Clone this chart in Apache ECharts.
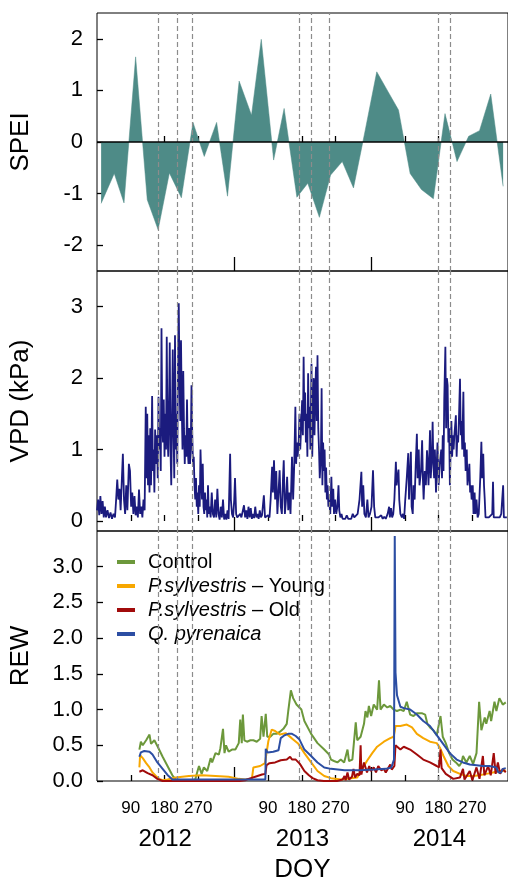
<!DOCTYPE html>
<html>
<head>
<meta charset="utf-8">
<script src="https://cdn.jsdelivr.net/npm/echarts@6/dist/echarts.min.js"></script>
<style>
html,body{margin:0;padding:0;background:#fff;}
#c{width:508px;height:884px;}
</style>
</head>
<body>
<div id="c"></div>
<script>
// ---- x axis (days since 2012-01-01) ----
var yearStarts = [0, 366, 731];
var yearLabels = ['2012', '2013', '2014'];
var doyTicks = [90, 180, 270];
var dashDays = [162, 213, 255, 540, 572, 618, 909, 941];

// ---- SPEI (monthly) ----
var speiDays = [11,46,72,103,134,163,193,225,256,286,319,348,379,412,438,471,499,533,562,593,623,654,684,715,746,775,804,835,865,897,928,960,991,1020,1050,1083];
var speiVals = [-1.19,-0.61,-1.18,1.65,-1.12,-1.70,-0.60,-1.08,0.38,-0.28,0.38,-1.05,1.18,0.52,1.99,-0.35,0.65,-1.07,-0.80,-1.46,-0.64,-0.38,-0.89,0.22,1.36,0.99,0.62,-0.61,-0.92,-1.10,0.55,-0.38,0.11,0.22,0.93,-0.86];

// ---- VPD (kPa) ----
var vpdDays = [0,3,6,9,12,15,18,21,24,28,32,36,40,44,48,51,54,57,60,63,66,69,72,75,78,81,85,88,91,94,97,100,103,106,109,112,115,118,121,124,127,130,132,134,136,138,140,142,144,147,149,151,153,155,157,160,162,164,166,168,170,172,174,176,178,180,182,184,186,188,190,192,194,196,198,200,202,204,206,208,210,212,214,216,218,220,222,224,226,228,230,232,234,236,238,240,242,244,246,248,250,252,254,256,258,260,262,264,266,268,270,272,274,276,278,280,282,284,286,288,290,292,294,296,298,300,303,306,309,312,315,318,321,324,327,330,333,336,339,342,345,348,351,355,357,360,363,
366,368,371,374,378,382,385,389,392,395,398,401,404,407,410,413,416,419,422,425,428,431,434,437,440,445,448,452,456,460,463,467,469,472,475,478,481,484,487,490,493,496,498,501,504,507,510,513,516,520,523,526,529,531,533,535,538,540,542,547,549,551,553,555,557,559,561,563,565,567,569,572,574,576,578,580,582,584,586,588,590,592,594,597,599,601,603,605,607,609,611,613,615,617,619,622,625,627,630,632,635,638,641,644,646,649,652,655,658,662,666,670,674,678,682,686,690,695,700,705,707,710,713,717,721,724,728,
732,736,739,742,746,750,754,758,762,766,770,775,779,781,784,787,790,793,797,799,801,804,806,809,813,816,819,822,826,830,832,834,837,839,842,844,847,850,853,855,858,860,864,867,869,871,874,877,880,882,884,888,890,893,895,897,899,901,904,906,908,911,914,918,920,922,924,926,929,931,933,935,937,939,941,943,945,947,949,951,953,957,959,961,963,965,968,970,972,974,977,979,981,983,986,988,990,993,995,997,999,1002,1004,1007,1009,1012,1015,1018,1022,1025,1027,1030,1032,1034,1036,1040,1045,1050,1054,1056,1058,1062,1066,1070,1074,1078,1083,1085,1089,1093];
var vpdVals = [0.15,0.3,0.08,0.35,0.1,0.28,0.05,0.2,0.05,0.15,0.04,0.12,0.03,0.1,0.05,0.3,0.58,0.3,0.45,0.15,0.55,0.94,0.3,0.1,0.5,0.15,0.8,0.7,0.2,0.4,0.1,0.35,0.08,0.2,0.05,0.44,0.1,0.2,0.05,0.3,0.15,1.6,0.6,1.5,0.5,1.2,0.4,1.3,0.5,1.75,0.7,1.0,0.4,1.28,0.8,1.2,0.6,1.74,1.0,1.3,0.7,2.7,1.4,1.1,1.7,0.9,1.5,1.0,2.58,1.2,0.9,1.6,2.5,1.0,0.5,1.4,2.4,1.3,0.6,2.6,1.0,1.5,0.8,2.2,3.05,2.0,1.4,2.53,1.6,1.0,2.1,1.3,0.8,1.2,0.9,1.7,1.0,0.8,1.3,0.8,1.0,1.9,1.2,0.8,0.9,0.5,0.3,0.6,0.2,0.4,0.1,0.5,0.2,1.0,0.6,0.3,0.8,0.2,0.1,0.4,0.15,0.3,0.05,0.5,0.1,0.2,0.05,0.4,0.1,0.05,0.3,0.05,0.45,0.1,0.02,0.2,0.05,0.3,0.02,0.1,0.02,0.15,0.03,0.94,0.3,0.1,0.05,
0.3,0.6,0.1,0.05,0.03,0.1,0.05,0.03,0.22,0.05,0.15,0.03,0.2,0.05,0.18,0.03,0.1,0.04,0.2,0.05,0.1,0.03,0.15,0.05,0.08,0.36,0.05,0.03,0.08,0.05,0.3,0.76,0.4,0.85,0.3,0.7,0.1,0.4,0.71,0.2,0.1,0.6,0.85,0.1,0.3,0.62,0.15,0.4,0.1,0.9,0.3,0.8,1.6,0.8,1.1,0.9,1.13,1.5,1.0,1.69,1.2,2.3,1.4,1.8,1.1,1.5,0.9,2.07,1.3,1.6,1.0,2.2,0.9,1.5,2.0,1.2,1.8,2.16,1.4,2.32,1.3,1.0,0.6,0.9,1.86,0.5,1.1,0.7,1.0,0.4,0.75,0.3,0.5,0.2,0.3,0.1,0.62,0.2,0.45,0.1,0.3,0.1,0.2,0.5,0.15,0.05,0.1,0.03,0.05,0.03,0.08,0.03,0.05,0.03,0.1,0.05,0.03,0.1,0.3,0.69,0.2,0.5,0.1,0.05,0.3,0.05,0.1,
0.2,0.71,0.2,0.05,0.03,0.05,0.03,0.08,0.03,0.06,0.03,0.1,0.2,0.05,0.18,0.05,0.1,0.3,0.83,0.5,0.6,0.72,0.3,0.1,0.05,0.1,0.03,0.3,0.6,0.95,0.3,0.6,0.97,0.2,0.1,0.5,0.3,0.8,1.22,0.6,1.0,0.5,0.7,1.13,0.6,0.3,0.7,0.5,0.99,0.8,0.5,1.27,0.6,0.9,1.39,0.8,0.6,1.0,0.4,0.8,1.1,0.5,0.8,1.0,0.6,1.2,0.7,1.7,2.44,1.3,2.0,1.9,1.1,1.3,0.5,1.0,1.4,0.9,1.2,1.0,1.2,1.48,0.9,1.2,1.1,1.4,1.99,1.2,1.4,1.0,1.81,0.9,1.1,0.7,1.0,0.5,0.6,0.8,0.4,0.5,0.3,0.5,0.1,0.4,0.1,0.3,0.05,0.1,0.6,1.11,0.6,0.94,0.5,0.3,0.05,0.03,0.05,0.03,0.1,0.55,0.05,0.03,0.05,0.03,0.05,0.1,0.5,0.05,0.03,0.05];

// ---- REW ----
var ctrlDays = [113,117,122,131,140,144,153,162,175,188,201,210,230,255,262,267,272,279,285,294,303,307,316,325,329,336,340,344,351,360,369,378,382,386,389,393,400,409,417,426,435,439,444,450,454,462,470,479,488,497,506,510,517,523,532,545,553,571,588,606,619,624,632,641,650,659,668,672,681,690,694,703,712,716,721,725,731,738,747,752,756,765,774,782,791,800,809,818,826,835,844,853,866,875,881,888,897,906,916,922,930,939,948,957,966,972,976,985,994,1003,1012,1019,1025,1034,1038,1047,1051,1060,1065,1073,1082,1090];
var ctrlVals = [0.44,0.55,0.50,0.57,0.65,0.52,0.57,0.48,0.34,0.21,0.08,0.02,0.01,0.01,0.02,0.12,0.21,0.10,0.19,0.14,0.32,0.26,0.39,0.37,0.46,0.73,0.39,0.50,0.41,0.44,0.44,0.53,0.86,0.53,0.93,0.57,0.55,0.57,0.57,0.55,0.59,0.91,0.62,0.94,0.62,0.62,0.66,0.66,0.69,0.73,0.80,0.98,1.27,1.16,1.07,1.00,0.84,0.66,0.53,0.44,0.37,0.30,0.28,0.26,0.30,0.26,0.44,0.28,0.30,0.82,0.57,0.62,0.80,0.98,0.89,1.05,0.91,1.07,1.00,1.41,1.00,1.07,1.03,1.05,1.00,0.98,1.00,0.98,1.11,0.93,0.91,0.95,0.95,0.93,0.80,0.75,0.71,0.64,0.91,0.62,0.53,0.39,0.30,0.26,0.21,0.26,0.35,0.26,0.35,0.24,0.39,1.11,0.71,0.89,0.80,0.98,0.84,1.11,0.98,1.16,1.07,1.10];

var psyDays = [113,115,122,131,140,148,157,166,175,188,210,245,280,316,351,378,395,413,417,435,448,457,466,475,488,503,519,537,553,571,588,606,624,650,677,694,707,721,734,747,765,782,791,794,796,809,826,840,853,870,888,906,915,924,937,950,968,985,1003,1020,1038,1056,1069,1082,1090];
var psyVals = [0.19,0.36,0.32,0.25,0.19,0.12,0.07,0.03,0.01,0.02,0.05,0.07,0.08,0.07,0.06,0.03,0.02,0.03,0.19,0.21,0.25,0.56,0.72,0.70,0.65,0.67,0.60,0.52,0.39,0.26,0.14,0.07,0.04,0.02,0.04,0.05,0.17,0.29,0.39,0.48,0.55,0.60,0.62,0.70,0.77,0.77,0.79,0.75,0.66,0.60,0.55,0.53,0.46,0.35,0.21,0.14,0.10,0.07,0.07,0.08,0.10,0.12,0.14,0.14,0.15];

var psoDays = [113,122,135,148,161,175,200,300,380,395,404,422,440,449,452,460,475,490,506,515,520,530,541,553,565,575,588,605,640,655,660,663,668,672,680,684,688,694,700,703,705,712,720,726,730,738,744,750,758,765,770,782,786,793,796,809,818,835,853,870,888,906,912,916,919,930,950,968,976,980,994,1001,1012,1020,1029,1033,1043,1050,1058,1063,1069,1075,1082,1090];
var psoVals = [0.13,0.15,0.11,0.08,0.03,0.00,0.00,0.00,0.00,0.01,0.03,0.06,0.09,0.10,0.22,0.25,0.26,0.29,0.30,0.34,0.30,0.30,0.24,0.14,0.08,0.04,0.01,0.00,0.00,0.02,0.07,0.01,0.12,0.02,0.06,0.17,0.05,0.10,0.08,0.50,0.09,0.26,0.12,0.21,0.14,0.19,0.12,0.21,0.15,0.17,0.12,0.23,0.16,0.21,0.50,0.44,0.48,0.44,0.37,0.30,0.26,0.21,0.19,0.44,0.18,0.10,0.03,0.05,0.17,0.02,0.14,0.01,0.19,0.03,0.35,0.08,0.21,0.08,0.39,0.10,0.26,0.10,0.17,0.12];

var qpyDays = [113,117,126,140,148,161,175,188,201,230,300,380,449,450,455,470,484,490,500,510,520,530,540,553,571,588,606,624,660,700,740,770,785,790,792,794,796,800,809,818,835,853,870,888,905,923,941,959,976,994,1012,1029,1047,1065,1070,1078,1082,1090];
var qpyVals = [0.34,0.40,0.42,0.41,0.37,0.26,0.17,0.085,0.02,0.02,0.02,0.02,0.02,0.45,0.40,0.41,0.43,0.60,0.64,0.66,0.66,0.63,0.58,0.44,0.35,0.26,0.19,0.17,0.15,0.15,0.16,0.17,0.19,0.21,0.30,3.43,1.52,1.20,1.04,1.02,1.00,0.93,0.84,0.77,0.65,0.52,0.39,0.30,0.26,0.23,0.22,0.21,0.21,0.19,0.12,0.12,0.17,0.18];

var seriesNames = ['Control', 'P.sylvestris – Young', 'P.sylvestris – Old', 'Q. pyrenaica'];
var legendRich = {
  'Control': 'Control',
  'P.sylvestris – Young': '{i|P.sylvestris} – Young',
  'P.sylvestris – Old': '{i|P.sylvestris} – Old',
  'Q. pyrenaica': '{i|Q. pyrenaica}'
};

function pairs(d, v) { return d.map(function (x, i) { return [x, v[i]]; }); }

var FONT = 'Liberation Sans, Arial, sans-serif';
var tickDays = [];
yearStarts.forEach(function (s) { doyTicks.forEach(function (d) { tickDays.push(s + d); }); });
var yearLabelDays = yearStarts.map(function (s) { return s + 182; });
var nextYears = yearStarts.slice(1);

function doyOf(v) {
  var s = 0;
  yearStarts.forEach(function (y) { if (v >= y) s = y; });
  return String(v - s);
}

var XMAX = 1096;
var gridDefs = [
  {top: 13, height: 258},
  {top: 271, height: 260},
  {top: 531, height: 258}
];

var grids = gridDefs.map(function (g) {
  return {left: 97, right: -4, top: g.top, height: g.height, show: true,
    borderColor: '#000', borderWidth: 1, backgroundColor: 'transparent'};
});

var xAxes = [];
gridDefs.forEach(function (g, i) {
  var last = (i === 2);
  xAxes.push({
    type: 'value', gridIndex: i, min: 0, max: XMAX, position: 'bottom',
    axisLine: {show: false}, splitLine: {show: false},
    axisTick: {show: true, inside: true, length: 6, customValues: tickDays,
      lineStyle: {color: '#000', width: 1.3}},
    axisLabel: {show: last, customValues: tickDays, formatter: doyOf,
      fontSize: 17, color: '#000', fontFamily: FONT, margin: 19}
  });
  xAxes.push({
    type: 'value', gridIndex: i, min: 0, max: XMAX, position: 'bottom',
    axisLine: {show: false}, splitLine: {show: false},
    axisTick: {show: true, inside: true, length: 14, customValues: nextYears,
      lineStyle: {color: '#000', width: 1.3}},
    axisLabel: {show: last, customValues: yearLabelDays,
      formatter: function (v) { return yearLabels[yearLabelDays.indexOf(v)]; },
      fontSize: 24, color: '#000', fontFamily: FONT, margin: 46},
    name: last ? 'DOY' : '', nameLocation: 'middle', nameGap: 76,
    nameTextStyle: {fontSize: 26, color: '#000', fontFamily: FONT}
  });
});

function yAxis(i, min, max, ticks, fmt, name) {
  return {
    type: 'value', gridIndex: i, min: min, max: max,
    axisLine: {show: false}, splitLine: {show: false},
    axisTick: {show: true, inside: true, length: 6, customValues: ticks,
      lineStyle: {color: '#000', width: 1.3}},
    axisLabel: {customValues: ticks, formatter: fmt, fontSize: 22, color: '#000',
      fontFamily: FONT, margin: 14},
    name: name, nameLocation: 'middle', nameGap: 63, nameRotate: 90,
    nameTextStyle: {fontSize: 26, color: '#000', fontFamily: FONT}
  };
}

var speiTicks = [-2, -1, 0, 1, 2];
var vpdTicks = [0, 1, 2, 3];
var rewTicks = [0, 0.5, 1, 1.5, 2, 2.5, 3];

var dashLine = {
  silent: true, symbol: ['none', 'none'], label: {show: false},
  lineStyle: {type: [5, 3], color: '#8c8c8c', width: 1.2},
  data: dashDays.map(function (d) { return {xAxis: d}; })
};

var speiMark = JSON.parse(JSON.stringify(dashLine));
speiMark.data.push({yAxis: 0, lineStyle: {type: 'solid', color: '#000', width: 1.5}});

var rewColors = ['#6c983b', '#f7a700', '#a10b0b', '#2c4ea3'];
var rewData = [pairs(ctrlDays, ctrlVals), pairs(psyDays, psyVals), pairs(psoDays, psoVals), pairs(qpyDays, qpyVals)];

var series = [
  {type: 'line', name: 'SPEI', xAxisIndex: 0, yAxisIndex: 0, data: pairs(speiDays, speiVals),
    symbol: 'none', lineStyle: {width: 0.5, color: '#4e8b87'},
    areaStyle: {color: '#4e8b87', opacity: 1, origin: 0}, markLine: speiMark, z: 2},
  {type: 'line', name: 'VPD', xAxisIndex: 2, yAxisIndex: 1, data: pairs(vpdDays, vpdVals),
    symbol: 'none', lineStyle: {width: 1.8, color: '#1b1b7e'}, markLine: dashLine, z: 2}
];
seriesNames.forEach(function (n, k) {
  var s = {type: 'line', name: n, xAxisIndex: 4, yAxisIndex: 2, data: rewData[k],
    symbol: 'none', color: rewColors[k], lineStyle: {width: 2, color: rewColors[k]}, z: 3 + k};
  if (k === 0) s.markLine = dashLine;
  series.push(s);
});

var option = {
  animation: false,
  backgroundColor: '#fff',
  textStyle: {fontFamily: FONT},
  grid: grids,
  xAxis: xAxes,
  yAxis: [
    yAxis(0, -2.5, 2.5, speiTicks, function (v) { return String(v); }, 'SPEI'),
    yAxis(1, -0.14, 3.5, vpdTicks, function (v) { return String(v); }, 'VPD (kPa)'),
    yAxis(2, 0, 3.5, rewTicks, function (v) { return v.toFixed(1); }, 'REW')
  ],
  legend: {
    data: seriesNames, orient: 'vertical', left: 117, top: 552, padding: 0,
    itemGap: 4, itemWidth: 18, itemHeight: 4, icon: 'rect',
    formatter: function (n) { return legendRich[n]; },
    textStyle: {fontSize: 20, color: '#000', fontFamily: FONT, padding: [0, 0, 0, 8],
      rich: {i: {fontStyle: 'italic', fontSize: 20, color: '#000', fontFamily: FONT}}}
  },
  series: series
};

var chart = echarts.init(document.getElementById('c'), null, {renderer: 'canvas'});
chart.setOption(option);
</script>
</body>
</html>
